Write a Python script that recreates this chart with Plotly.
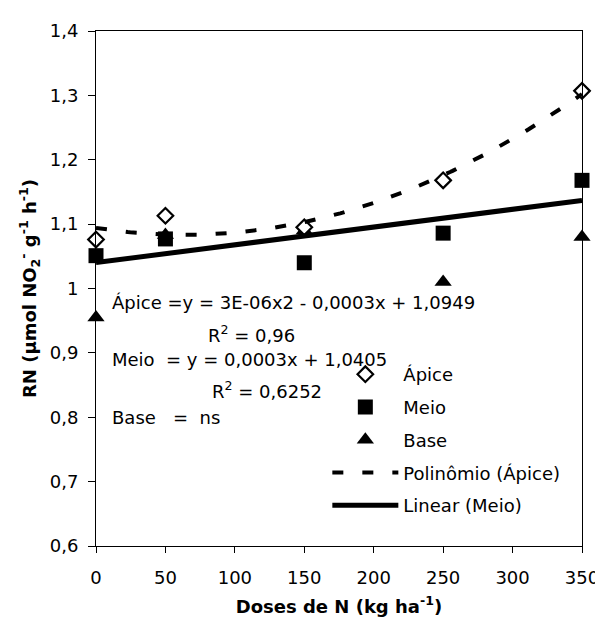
import numpy as np
import plotly.graph_objects as go

# ---- data ----
doses = [0, 50, 150, 250, 350]
apice = [1.076, 1.113, 1.095, 1.168, 1.307]
meio = [1.051, 1.077, 1.040, 1.086, 1.168]
base = [0.955, 1.083, 1.090, 1.010, 1.080]

y_tickvals = [0.6, 0.7, 0.8, 0.9, 1.0, 1.1, 1.2, 1.3, 1.4]
y_ticktext = ["0,6", "0,7", "0,8", "0,9", "1", "1,1", "1,2", "1,3", "1,4"]
x_tickvals = [0, 50, 100, 150, 200, 250, 300, 350]

eq_lines = [
    "Ápice =y = 3E-06x2 - 0,0003x + 1,0949",
    "R<sup>2</sup> = 0,96",
    "Meio\u00a0\u00a0= y = 0,0003x + 1,0405",
    "R<sup>2</sup> = 0,6252",
    "Base\u00a0\u00a0\u00a0=\u00a0\u00a0ns",
]
eq_x = [9.9, 78.9, 9.9, 82.4, 9.9]
eq_y = [0.979, 0.930, 0.889, 0.843, 0.800]

# trendlines (fitted from the data, as the spreadsheet does)
xx = np.linspace(0, 350, 200)
poly = np.polyfit(doses, apice, 2)
lin = np.polyfit(doses, meio, 1)

FONT = "DejaVu Sans"
FS = 18

fig = go.Figure()
fig.add_trace(go.Scatter(x=doses, y=base, mode="markers", name="Base", legendrank=3, legendgroup="c",
                         cliponaxis=False,
                         marker=dict(symbol="triangle-up", size=15, color="black")))
fig.add_trace(go.Scatter(x=doses, y=meio, mode="markers", name="Meio", legendrank=2, legendgroup="b",
                         cliponaxis=False,
                         marker=dict(symbol="square", size=15, color="black")))
fig.add_trace(go.Scatter(x=doses, y=apice, mode="markers", name="Ápice", legendrank=1, legendgroup="a",
                         cliponaxis=False,
                         marker=dict(symbol="diamond", size=12, color="white",
                                     line=dict(color="black", width=2.2))))
fig.add_trace(go.Scatter(x=xx, y=np.polyval(poly, xx), mode="lines", name="Polinômio (Ápice)",
                         legendrank=4, legendgroup="d",
                         line=dict(color="black", width=4, dash="11px,19px")))
fig.add_trace(go.Scatter(x=xx, y=np.polyval(lin, xx), mode="lines", name="Linear (Meio)",
                         legendrank=5, legendgroup="e",
                         line=dict(color="black", width=5)))

for t, xv, yv in zip(eq_lines, eq_x, eq_y):
    fig.add_annotation(x=xv, y=yv, xref="x", yref="y", text=t, showarrow=False,
                       xanchor="left", yanchor="middle",
                       font=dict(family=FONT, size=FS, color="black"))

fig.update_layout(
    width=603, height=624,
    margin=dict(l=88, r=19, t=15, b=86),
    paper_bgcolor="white", plot_bgcolor="white",
    font=dict(family=FONT, size=FS, color="black"),
    showlegend=True,
    legend=dict(x=0.476, y=0.369, xanchor="left", yanchor="top",
                bgcolor="rgba(0,0,0,0)", borderwidth=0,
                font=dict(family=FONT, size=FS, color="black"),
                itemwidth=66, tracegroupgap=6.4),
)
fig.update_xaxes(range=[0, 350], tickvals=x_tickvals, ticks="outside", ticklen=6,
                 tickcolor="black", linecolor="black", linewidth=1, mirror=True,
                 showgrid=False, zeroline=False, ticklabelstandoff=9,
                 title=dict(text="<b>Doses de N (kg ha<sup>-1</sup>)</b>", standoff=13,
                            font=dict(family=FONT, size=FS)))
fig.update_yaxes(range=[0.6, 1.4], tickvals=y_tickvals, ticktext=y_ticktext,
                 ticks="outside", ticklen=7, tickcolor="black",
                 linecolor="black", linewidth=1, mirror=True,
                 showgrid=False, zeroline=False, ticklabelstandoff=6,
                 title=dict(text="<b>RN (µmol NO<sub>2</sub><sup>-</sup> g<sup>-1</sup> h<sup>-1</sup>)</b>",
                            standoff=8, font=dict(family=FONT, size=FS)))

fig.write_html("out.html")
